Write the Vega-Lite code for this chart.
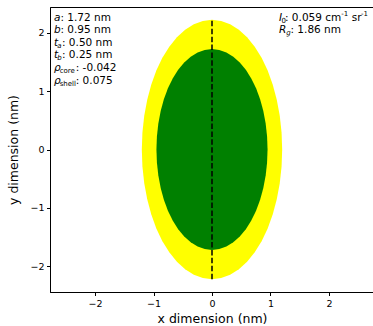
{
  "$schema": "https://vega.github.io/schema/vega-lite/v6.json",
  "width": 324,
  "height": 285,
  "autosize": {"type": "none"},
  "padding": {"left": 50, "top": 7, "right": 0, "bottom": 34},
  "background": "white",
  "config": {
    "font": "DejaVu Sans",
    "view": {"stroke": "black", "strokeWidth": 1},
    "axis": {
      "domainColor": "black",
      "domainWidth": 1,
      "tickColor": "black",
      "tickSize": 3.5,
      "tickWidth": 1,
      "labelColor": "black",
      "labelFont": "DejaVu Sans",
      "labelFontSize": 9.5,
      "labelPadding": 2.5,
      "titleColor": "black",
      "titleFont": "DejaVu Sans",
      "titleFontSize": 12.5,
      "titleFontWeight": "normal",
      "grid": false
    }
  },
  "datasets": {
    "ellipse": [
      {"part": "shell", "x": -1.2, "y": 0, "yneg": 0},
      {"part": "shell", "x": -1.1897, "y": 0.2898, "yneg": -0.2898},
      {"part": "shell", "x": -1.1591, "y": 0.5746, "yneg": -0.5746},
      {"part": "shell", "x": -1.1087, "y": 0.8496, "yneg": -0.8496},
      {"part": "shell", "x": -1.0392, "y": 1.11, "yneg": -1.11},
      {"part": "shell", "x": -0.952, "y": 1.3514, "yneg": -1.3514},
      {"part": "shell", "x": -0.8485, "y": 1.5698, "yneg": -1.5698},
      {"part": "shell", "x": -0.7305, "y": 1.7612, "yneg": -1.7612},
      {"part": "shell", "x": -0.6, "y": 1.9226, "yneg": -1.9226},
      {"part": "shell", "x": -0.4592, "y": 2.051, "yneg": -2.051},
      {"part": "shell", "x": -0.3106, "y": 2.1444, "yneg": -2.1444},
      {"part": "shell", "x": -0.1566, "y": 2.201, "yneg": -2.201},
      {"part": "shell", "x": 0, "y": 2.22, "yneg": -2.22},
      {"part": "shell", "x": 0.1566, "y": 2.201, "yneg": -2.201},
      {"part": "shell", "x": 0.3106, "y": 2.1444, "yneg": -2.1444},
      {"part": "shell", "x": 0.4592, "y": 2.051, "yneg": -2.051},
      {"part": "shell", "x": 0.6, "y": 1.9226, "yneg": -1.9226},
      {"part": "shell", "x": 0.7305, "y": 1.7612, "yneg": -1.7612},
      {"part": "shell", "x": 0.8485, "y": 1.5698, "yneg": -1.5698},
      {"part": "shell", "x": 0.952, "y": 1.3514, "yneg": -1.3514},
      {"part": "shell", "x": 1.0392, "y": 1.11, "yneg": -1.11},
      {"part": "shell", "x": 1.1087, "y": 0.8496, "yneg": -0.8496},
      {"part": "shell", "x": 1.1591, "y": 0.5746, "yneg": -0.5746},
      {"part": "shell", "x": 1.1897, "y": 0.2898, "yneg": -0.2898},
      {"part": "shell", "x": 1.2, "y": 0, "yneg": 0},
      {"part": "core", "x": -0.95, "y": 0, "yneg": 0},
      {"part": "core", "x": -0.9419, "y": 0.2245, "yneg": -0.2245},
      {"part": "core", "x": -0.9176, "y": 0.4452, "yneg": -0.4452},
      {"part": "core", "x": -0.8777, "y": 0.6582, "yneg": -0.6582},
      {"part": "core", "x": -0.8227, "y": 0.86, "yneg": -0.86},
      {"part": "core", "x": -0.7537, "y": 1.0471, "yneg": -1.0471},
      {"part": "core", "x": -0.6718, "y": 1.2162, "yneg": -1.2162},
      {"part": "core", "x": -0.5783, "y": 1.3646, "yneg": -1.3646},
      {"part": "core", "x": -0.475, "y": 1.4896, "yneg": -1.4896},
      {"part": "core", "x": -0.3635, "y": 1.5891, "yneg": -1.5891},
      {"part": "core", "x": -0.2459, "y": 1.6614, "yneg": -1.6614},
      {"part": "core", "x": -0.124, "y": 1.7053, "yneg": -1.7053},
      {"part": "core", "x": 0, "y": 1.72, "yneg": -1.72},
      {"part": "core", "x": 0.124, "y": 1.7053, "yneg": -1.7053},
      {"part": "core", "x": 0.2459, "y": 1.6614, "yneg": -1.6614},
      {"part": "core", "x": 0.3635, "y": 1.5891, "yneg": -1.5891},
      {"part": "core", "x": 0.475, "y": 1.4896, "yneg": -1.4896},
      {"part": "core", "x": 0.5783, "y": 1.3646, "yneg": -1.3646},
      {"part": "core", "x": 0.6718, "y": 1.2162, "yneg": -1.2162},
      {"part": "core", "x": 0.7537, "y": 1.0471, "yneg": -1.0471},
      {"part": "core", "x": 0.8227, "y": 0.86, "yneg": -0.86},
      {"part": "core", "x": 0.8777, "y": 0.6582, "yneg": -0.6582},
      {"part": "core", "x": 0.9176, "y": 0.4452, "yneg": -0.4452},
      {"part": "core", "x": 0.9419, "y": 0.2245, "yneg": -0.2245},
      {"part": "core", "x": 0.95, "y": 0, "yneg": 0}
    ],
    "axisline": [
      {"x": 0, "y": -2.22, "y2": 2.22}
    ],
    "notes": [
      {"kind": "sym", "x": -2.702, "y": 2.257, "t": "a"},
      {"kind": "val", "x": -2.591, "y": 2.257, "t": ": 1.72 nm"},
      {"kind": "sym", "x": -2.702, "y": 2.041, "t": "b"},
      {"kind": "val", "x": -2.591, "y": 2.041, "t": ": 0.95 nm"},
      {"kind": "sym", "x": -2.702, "y": 1.825, "t": "t"},
      {"kind": "subi", "x": -2.645, "y": 1.825, "t": "a"},
      {"kind": "val", "x": -2.565, "y": 1.825, "t": ": 0.50 nm"},
      {"kind": "sym", "x": -2.702, "y": 1.61, "t": "t"},
      {"kind": "subi", "x": -2.645, "y": 1.61, "t": "b"},
      {"kind": "val", "x": -2.565, "y": 1.61, "t": ": 0.25 nm"},
      {"kind": "sym", "x": -2.702, "y": 1.394, "t": "ρ"},
      {"kind": "sub", "x": -2.604, "y": 1.394, "t": "core"},
      {"kind": "val", "x": -2.33, "y": 1.394, "t": ": -0.042"},
      {"kind": "sym", "x": -2.702, "y": 1.178, "t": "ρ"},
      {"kind": "sub", "x": -2.604, "y": 1.178, "t": "shell"},
      {"kind": "val", "x": -2.33, "y": 1.178, "t": ": 0.075"},
      {"kind": "sym", "x": 1.146, "y": 2.257, "t": "I"},
      {"kind": "sub", "x": 1.19, "y": 2.257, "t": "0"},
      {"kind": "val", "x": 1.248, "y": 2.257, "t": ": 0.059 cm"},
      {"kind": "sup", "x": 2.211, "y": 2.257, "t": "-1"},
      {"kind": "val", "x": 2.388, "y": 2.257, "t": "sr"},
      {"kind": "sup", "x": 2.548, "y": 2.257, "t": "-1"},
      {"kind": "sym", "x": 1.146, "y": 2.041, "t": "R"},
      {"kind": "subi", "x": 1.271, "y": 2.041, "t": "g"},
      {"kind": "val", "x": 1.342, "y": 2.041, "t": ": 1.86 nm"}
    ]
  },
  "encoding": {
    "x": {
      "field": "x",
      "type": "quantitative",
      "scale": {"domain": [-2.77, 2.77], "nice": false, "zero": false},
      "axis": {"values": [-2, -1, 0, 1, 2], "labelExpr": "replace(format(datum.value, 'd'), '-', '−')", "title": "x dimension (nm)", "titlePadding": 5}
    },
    "y": {
      "field": "y",
      "type": "quantitative",
      "scale": {"domain": [-2.44, 2.44], "nice": false, "zero": false},
      "axis": {"values": [-2, -1, 0, 1, 2], "labelExpr": "replace(format(datum.value, 'd'), '-', '−')", "title": "y dimension (nm)", "titlePadding": 9}
    }
  },
  "layer": [
    {
      "data": {"name": "ellipse"},
      "transform": [{"filter": "datum.part === 'shell'"}],
      "mark": {"type": "area", "color": "#ffff00", "opacity": 1, "interpolate": "linear"},
      "encoding": {"y2": {"field": "yneg"}}
    },
    {
      "data": {"name": "ellipse"},
      "transform": [{"filter": "datum.part === 'core'"}],
      "mark": {"type": "area", "color": "#008000", "opacity": 1, "interpolate": "linear"},
      "encoding": {"y2": {"field": "yneg"}}
    },
    {
      "data": {"name": "axisline"},
      "mark": {"type": "rule", "color": "black", "strokeWidth": 1.5, "strokeDash": [5.5, 2.4]},
      "encoding": {"y2": {"field": "y2"}}
    },
    {
      "data": {"name": "notes"},
      "transform": [{"filter": "datum.kind === 'sym'"}],
      "mark": {"type": "text", "align": "left", "baseline": "middle", "fontSize": 10.5, "fontStyle": "italic", "color": "black", "font": "DejaVu Sans"},
      "encoding": {"text": {"field": "t"}}
    },
    {
      "data": {"name": "notes"},
      "transform": [{"filter": "datum.kind === 'val'"}],
      "mark": {"type": "text", "align": "left", "baseline": "middle", "fontSize": 10.5, "color": "black", "font": "DejaVu Sans"},
      "encoding": {"text": {"field": "t"}}
    },
    {
      "data": {"name": "notes"},
      "transform": [{"filter": "datum.kind === 'sub'"}],
      "mark": {"type": "text", "align": "left", "baseline": "middle", "fontSize": 7, "dy": 3, "color": "black", "font": "DejaVu Sans"},
      "encoding": {"text": {"field": "t"}}
    },
    {
      "data": {"name": "notes"},
      "transform": [{"filter": "datum.kind === 'subi'"}],
      "mark": {"type": "text", "align": "left", "baseline": "middle", "fontSize": 7, "dy": 3, "fontStyle": "italic", "color": "black", "font": "DejaVu Sans"},
      "encoding": {"text": {"field": "t"}}
    },
    {
      "data": {"name": "notes"},
      "transform": [{"filter": "datum.kind === 'sup'"}],
      "mark": {"type": "text", "align": "left", "baseline": "middle", "fontSize": 7, "dy": -4, "color": "black", "font": "DejaVu Sans"},
      "encoding": {"text": {"field": "t"}}
    }
  ]
}
